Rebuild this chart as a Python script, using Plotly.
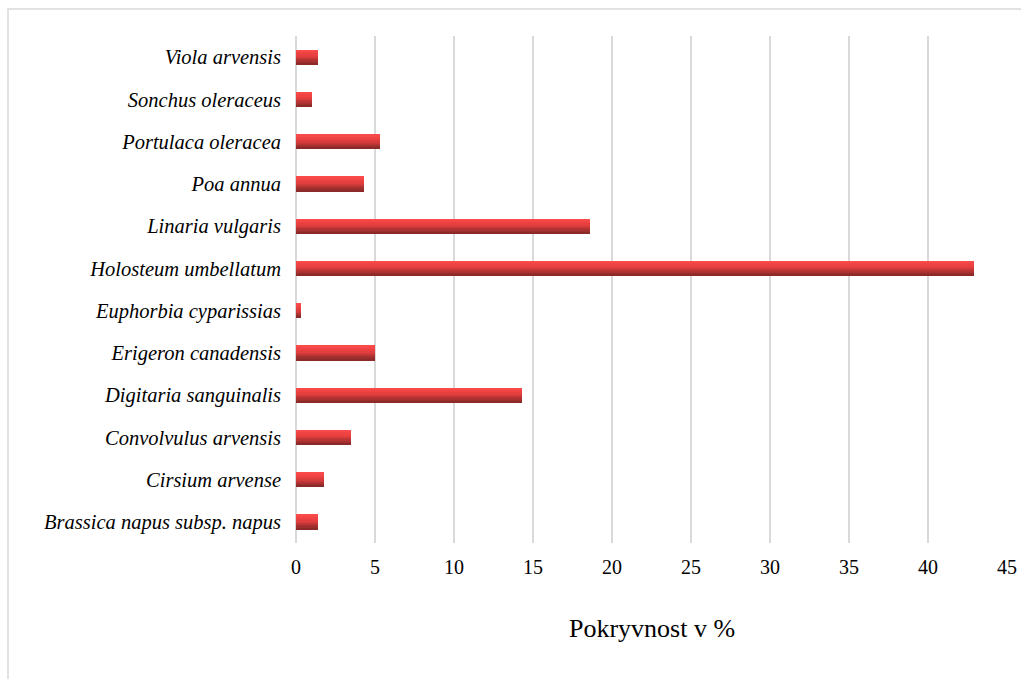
import plotly.graph_objects as go

species = [
    "Brassica napus subsp. napus",
    "Cirsium arvense",
    "Convolvulus arvensis",
    "Digitaria sanguinalis",
    "Erigeron canadensis",
    "Euphorbia cyparissias",
    "Holosteum umbellatum",
    "Linaria vulgaris",
    "Poa annua",
    "Portulaca oleracea",
    "Sonchus oleraceus",
    "Viola arvensis",
]
cover = [1.4, 1.8, 3.5, 14.3, 5.0, 0.3, 42.9, 18.6, 4.3, 5.3, 1.0, 1.4]
x_ticks = [0, 5, 10, 15, 20, 25, 30, 35, 40, 45]

W, H = 1021, 679
L, R, T, B = 296, 14, 36, 136
pw, ph = W - L - R, H - T - B

bar_w = 0.34
n_bands = 12
top_c = (250, 74, 74)
mid_c = (228, 62, 62)
bot_c = (140, 42, 42)

def lerp(a, b, t):
    return tuple(int(round(a[i] + (b[i] - a[i]) * t)) for i in range(3))

fig = go.Figure()
band = bar_w / n_bands
for k in range(n_bands):
    t = k / (n_bands - 1)  # 0 top, 1 bottom
    if t < 0.45:
        c = lerp(top_c, mid_c, t / 0.45)
    else:
        c = lerp(mid_c, bot_c, (t - 0.45) / 0.55)
    offset = bar_w / 2 - (k + 1) * band
    fig.add_trace(go.Bar(
        y=species, x=cover, orientation="h",
        width=band * 1.02, offset=offset,
        marker=dict(color="rgb(%d,%d,%d)" % c, line=dict(width=0)),
        showlegend=False, hoverinfo="skip" if k else "x+y",
    ))

fig.update_layout(
    width=W, height=H,
    margin=dict(l=L, r=R, t=T, b=B, autoexpand=False),
    paper_bgcolor="white", plot_bgcolor="white",
    barmode="overlay", bargap=0,
    font=dict(family="Liberation Serif, Times New Roman, serif", color="black"),
    xaxis=dict(
        range=[0, 45], tickvals=x_ticks, ticktext=[str(v) for v in x_ticks],
        showgrid=True, gridcolor="#d9d9d9", gridwidth=1.5,
        zeroline=True, zerolinecolor="#d9d9d9", zerolinewidth=1.5,
        showline=False, ticks="", tickfont=dict(size=20),
        ticklabelstandoff=10, fixedrange=True, automargin=False,
    ),
    yaxis=dict(
        type="category", categoryorder="array", categoryarray=species,
        showgrid=False, zeroline=False, showline=False, ticks="",
        tickfont=dict(size=20.5, style="italic"), ticklabelstandoff=14,
        range=[-0.5, len(species) - 0.5], fixedrange=True, automargin=False,
    ),
    annotations=[dict(
        text="Pokryvnost v %", x=(652 - L) / pw, xref="paper",
        y=-(628 - (T + ph)) / ph, yref="paper",
        xanchor="center", yanchor="middle", showarrow=False,
        font=dict(size=26),
    )],
    shapes=[dict(
        type="rect", xref="paper", yref="paper",
        x0=(8 - L) / pw, x1=(W + 20 - L) / pw,
        y0=-(H + 20 - T - ph) / ph, y1=(T + ph - 9) / ph,
        line=dict(color="#d9d9d9", width=1.5), fillcolor="rgba(0,0,0,0)",
        layer="below",
    )],
)

fig.write_html("out.html")
